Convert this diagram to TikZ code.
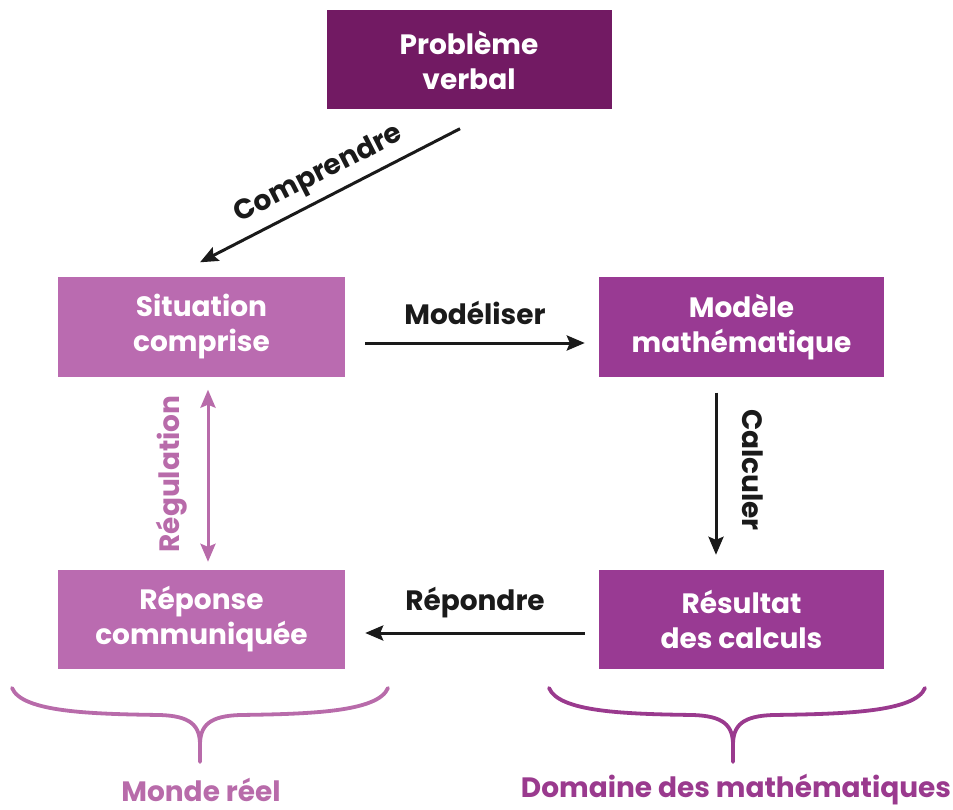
\documentclass[tikz,border=0pt]{standalone}
\usepackage{fontspec}
\setmainfont{Poppins}
\usetikzlibrary{arrows.meta}
\definecolor{cdark}{HTML}{721A63}
\definecolor{clight}{HTML}{BA6BB0}
\definecolor{cmid}{HTML}{993A93}
\definecolor{cink}{HTML}{1A1A1A}
\definecolor{cpink}{HTML}{B86BAA}
\definecolor{cplum}{HTML}{9A3A8E}
\tikzset{
  box/.style={minimum width=285pt, minimum height=99pt, inner sep=0pt, align=center,
    text=white, font=\fontsize{28}{35}\selectfont\bfseries},
  lbl/.style={font=\fontsize{28}{35}\selectfont\bfseries, inner sep=0pt},
  arr/.style={line width=3pt, draw=cink, -{Stealth[length=18pt,width=15pt,inset=3pt]}},
  regarr/.style={line width=3pt, draw=cpink, {Stealth[length=18pt,width=15pt,inset=3pt]}-{Stealth[length=18pt,width=15pt,inset=3pt]}},
  brace/.style={line width=3.8pt, line cap=round},
}
\begin{document}
\begin{tikzpicture}[x=1pt,y=-1pt]
\useasboundingbox (0,0) rectangle (953,810);
\node[box, fill=cdark] (prob) at (469,60) {Problème\\verbal};
\node[box, fill=clight, minimum width=287pt] (sit) at (201.5,327) {Situation\\comprise};
\node[box, fill=cmid] (mod) at (741.5,327) {Modèle\\mathématique};
\node[box, fill=clight, minimum width=287pt] (rep) at (201.5,619.5) {Réponse\\communiquée};
\node[box, fill=cmid] (res) at (741.5,619.5) {Résultat\\des calculs};

\draw[arr] ([xshift=-9pt,yshift=-19pt]prob.south) -- ([xshift=-1.5pt,yshift=15pt]sit.north);
\node[lbl, text=cink, rotate=27] (lcomp) at (319,175) {Comprendre};

\draw[arr] ([xshift=20pt,yshift=-16pt]sit.east) -- ([xshift=-14pt,yshift=-16pt]mod.west);
\node[lbl, text=cink] (lmod) at (475,313) {Modéliser};

\draw[arr] ([xshift=-25.5pt,yshift=-16pt]mod.south) -- ([xshift=-25.5pt,yshift=15pt]res.north);
\node[lbl, text=cink, rotate=-90] (lcal) at (753,470) {Calculer};

\draw[arr] ([xshift=-14pt,yshift=-13.5pt]res.west) -- ([xshift=20pt,yshift=-13.5pt]rep.east);
\node[lbl, text=cink] (lrep) at (475,603) {Répondre};

\draw[regarr] ([xshift=6.5pt,yshift=-13pt]sit.south) -- ([xshift=6.5pt,yshift=8pt]rep.north);
\node[lbl, text=cpink, rotate=90] (lreg) at (172,474) {Régulation};

\draw[brace, draw=cpink] (12,688) .. controls (22,712) and (90,714) .. (160,715)
  .. controls (190,716) and (200,725) .. (200,745) -- (200,762);
\draw[brace, draw=cpink] (388,688) .. controls (378,712) and (310,714) .. (240,715)
  .. controls (210,716) and (200,725) .. (200,745);
\draw[brace, draw=cplum] (549,688) .. controls (559,712) and (625,714) .. (693,715)
  .. controls (723,716) and (733,725) .. (733,745) -- (733,762);
\draw[brace, draw=cplum] (925,688) .. controls (915,712) and (845,714) .. (773,715)
  .. controls (743,716) and (733,725) .. (733,745);

\node[lbl, text=cpink] (lmonde) at (201,790) {Monde réel};
\node[lbl, text=cplum] (ldom) at (736,790) {Domaine des mathématiques};
\end{tikzpicture}
\end{document}
